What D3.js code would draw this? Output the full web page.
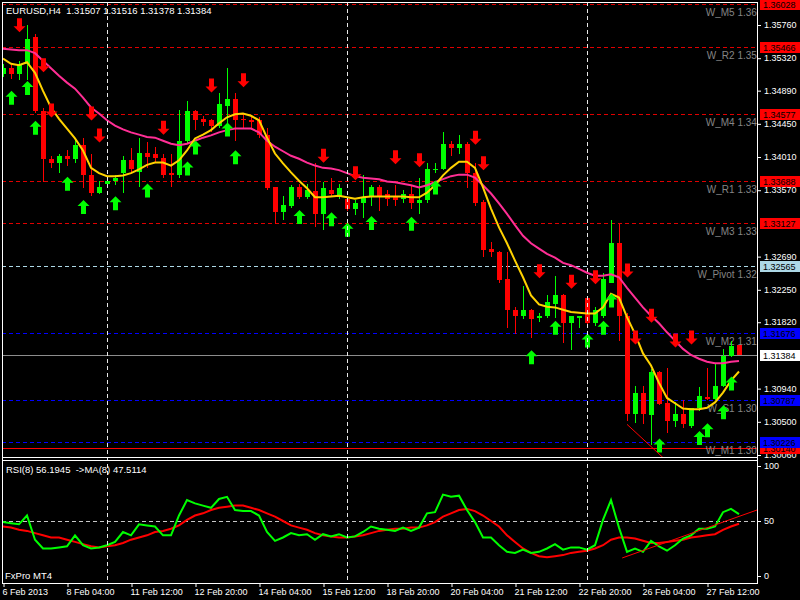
<!DOCTYPE html>
<html><head><meta charset="utf-8">
<script src="https://cdn.jsdelivr.net/npm/d3@7"></script>
<style>
body{margin:0;background:#000}
svg{display:block}
text{font-family:"Liberation Sans",Arial,sans-serif}
</style>
</head><body>
<svg id="c" width="800" height="600"></svg>
<script>
// ---------- DATA ----------
const symbolTitle = "EURUSD,H4  1.31507 1.31516 1.31378 1.31384";
const rsiTitle = "RSI(8) 56.1945  ->MA(8) 47.5114";
const brokerText = "FxPro MT4";

const opens = [1.3511,1.3519,1.3511,1.3524,1.3559,1.3462,1.3398,1.3393,1.3402,1.3398,
 1.3416,1.3376,1.3352,1.3365,1.3368,1.3379,1.3396,1.3380,1.3406,1.3404,
 1.3399,1.3379,1.3376,1.3422,1.3461,1.3451,1.3449,1.3442,1.3468,1.3477,
 1.3451,1.3449,1.3449,1.3429,1.3360,1.3327,1.3336,1.3360,1.3347,1.3355,
 1.3325,1.3357,1.3349,1.3345,1.3332,1.3339,1.3348,1.3360,1.3351,1.3348,
 1.3345,1.3351,1.3340,1.3343,1.3384,1.3385,1.3418,1.3412,1.3417,1.3379,
 1.3341,1.3279,1.3275,1.3238,1.3198,1.3190,1.3198,1.3187,1.3190,1.3206,
 1.3218,1.3180,1.3187,1.3214,1.3180,1.3190,1.3234,1.3287,1.3190,1.3060,
 1.3087,1.3058,1.3115,1.3074,1.3050,1.3060,1.3044,1.3068,1.3082,1.3079,
 1.3097,1.3136,1.31507];
const highs = [1.3523,1.3524,1.3528,1.3575,1.3564,1.3465,1.3402,1.3405,1.3409,1.3426,
 1.3426,1.3405,1.3369,1.3372,1.3377,1.3402,1.3412,1.3425,1.3420,1.3413,
 1.3405,1.3405,1.3463,1.3474,1.3463,1.3455,1.3451,1.3485,1.3518,1.3485,
 1.3459,1.3455,1.3453,1.3439,1.3360,1.3349,1.3363,1.3365,1.3365,1.3392,
 1.3367,1.3373,1.3365,1.3347,1.3343,1.3376,1.3363,1.3363,1.3356,1.3363,
 1.3356,1.3363,1.3372,1.3392,1.3393,1.3433,1.3421,1.3429,1.3420,1.3393,
 1.3343,1.3288,1.3276,1.3274,1.3202,1.3230,1.3199,1.3194,1.3217,1.3243,
 1.3219,1.3190,1.3190,1.3215,1.3202,1.3246,1.3317,1.3312,1.3193,1.3097,
 1.3097,1.3120,1.3117,1.3121,1.3075,1.3078,1.3068,1.3095,1.3121,1.3127,
 1.3146,1.3157,1.31516];
const lows = [1.3507,1.3504,1.3502,1.3502,1.3459,1.3367,1.3386,1.3379,1.3389,1.3392,
 1.3359,1.3349,1.3351,1.3363,1.3363,1.3353,1.3379,1.3360,1.3386,1.3393,
 1.3373,1.3360,1.3373,1.3418,1.3436,1.3442,1.3433,1.3439,1.3442,1.3422,
 1.3439,1.3438,1.3426,1.3356,1.3312,1.3317,1.3333,1.3345,1.3345,1.3308,
 1.3303,1.3347,1.3345,1.3329,1.3323,1.3319,1.3336,1.3329,1.3336,1.3336,
 1.3339,1.3332,1.3325,1.3339,1.3379,1.3383,1.3402,1.3405,1.3359,1.3335,
 1.3268,1.3268,1.3233,1.3174,1.3166,1.3186,1.3160,1.3181,1.3187,1.3187,
 1.3154,1.3144,1.3174,1.3178,1.3177,1.3187,1.3233,1.3157,1.3051,1.3048,
 1.3047,1.3018,1.3071,1.3034,1.3043,1.3041,1.3041,1.3064,1.3078,1.3078,
 1.3095,1.3135,1.31378];
const closes = [1.3519,1.3511,1.3524,1.3557,1.3462,1.3398,1.3393,1.3402,1.3398,1.3416,
 1.3376,1.3352,1.3361,1.3369,1.3373,1.3396,1.3385,1.3406,1.3401,1.3399,
 1.3377,1.3376,1.3422,1.3461,1.3450,1.3447,1.3442,1.3471,1.3477,1.3449,
 1.3449,1.3447,1.3429,1.3359,1.3328,1.3337,1.3360,1.3348,1.3356,1.3325,
 1.3359,1.3351,1.3359,1.3332,1.3339,1.3348,1.3360,1.3349,1.3345,1.3344,
 1.3351,1.3340,1.3344,1.3385,1.3385,1.3417,1.3412,1.3417,1.3379,1.3340,
 1.3277,1.3274,1.3237,1.3197,1.3190,1.3198,1.3186,1.3190,1.3208,1.3218,
 1.3180,1.3189,1.3190,1.3180,1.3197,1.3238,1.3287,1.3189,1.3060,1.3087,
 1.3060,1.3115,1.3073,1.3050,1.3060,1.3046,1.3068,1.3083,1.3079,1.3097,
 1.3136,1.3150,1.31384];
const fastMA = [1.3531,1.3524,1.3522,1.3526,1.3512,1.3488,1.3466,1.3451,1.3438,1.3425,
 1.3409,1.3386,1.3379,1.3375,1.3375,1.3376,1.3379,1.3384,1.3390,1.3393,
 1.3393,1.3389,1.3396,1.3409,1.3425,1.3430,1.3436,1.3445,1.3453,1.3457,
 1.3458,1.3455,1.3449,1.3426,1.3405,1.3392,1.3380,1.3369,1.3359,1.3347,
 1.3347,1.3348,1.3349,1.3347,1.3345,1.3347,1.3348,1.3348,1.3348,1.3348,
 1.3348,1.3347,1.3347,1.3353,1.3363,1.3376,1.3386,1.3394,1.3394,1.3386,
 1.3360,1.3332,1.3307,1.3286,1.3263,1.3241,1.3217,1.3205,1.3202,1.3201,
 1.3198,1.3195,1.3194,1.3193,1.3193,1.3201,1.3219,1.3214,1.3188,1.3166,
 1.3140,1.3124,1.3101,1.3081,1.3074,1.3067,1.3066,1.3066,1.3068,1.3075,
 1.3088,1.3104,1.3116];
const slowMA = [1.3544,1.3543,1.3542,1.3542,1.3538,1.3528,1.3518,1.3508,1.3499,1.3491,
 1.3479,1.3466,1.3458,1.3449,1.3442,1.3437,1.3433,1.3430,1.3427,1.3426,
 1.3422,1.3418,1.3416,1.3418,1.3422,1.3426,1.3429,1.3433,1.3436,1.3438,
 1.3438,1.3438,1.3433,1.3422,1.3414,1.3408,1.3402,1.3398,1.3393,1.3389,
 1.3386,1.3385,1.3383,1.3379,1.3375,1.3373,1.3372,1.3371,1.3368,1.3367,
 1.3365,1.3363,1.3360,1.3363,1.3367,1.3371,1.3375,1.3377,1.3377,1.3373,
 1.3363,1.3352,1.3339,1.3325,1.3310,1.3296,1.3286,1.3279,1.3272,1.3267,
 1.3260,1.3257,1.3252,1.3247,1.3243,1.3243,1.3245,1.3241,1.3227,1.3214,
 1.3201,1.3190,1.3180,1.3168,1.3157,1.3146,1.3138,1.3133,1.3129,1.3127,
 1.3127,1.3129,1.3130];
const rsiVals = [49,48,47,55,33,25,25,26,27,37,
 28,25,26,28,31,40,37,47,46,45,
 37,37,55,69,66,64,62,70,72,60,
 59,59,55,40,32,35,39,37,38,33,
 38,36,38,35,36,40,45,43,42,41,
 44,41,44,57,58,74,72,73,60,49,
 35,35,28,22,21,24,21,22,25,29,
 24,26,26,24,28,51,69,44,22,25,
 22,32,27,23,28,34,37,43,43,45,
 58,61,56.1945];
const rsiMA = [45,44,42,41,39,37,35,35,33,31,
 29,27,26,27,28,30,33,35,37,40,
 41,43,46,51,55,57,60,62,63,64,
 64,62,60,57,54,50,46,44,42,39,
 37,36,35,35,36,37,39,41,42,43,
 43,44,44,46,49,54,57,60,61,59,
 55,50,45,37,31,25,21,18,17,18,
 19,21,22,23,25,28,33,35,35,34,
 32,30,30,31,32,33,35,36,37,38,
 42,45,47.5114];

const downArrowBars = [2,5,6,11,12,20,26,30,40,44,49,52,59,60,67,71,74,78,79,81,84,86];
const downArrowPrices = [1.3575,1.3522,1.3462,1.3458,1.3429,1.3439,1.3495,1.3502,1.3402,1.3379,1.3400,1.3396,1.3426,1.3392,1.3249,1.3235,1.3241,1.3250,1.3161,1.3190,1.3157,1.3161];
const upArrowBars = [1,3,4,8,10,14,18,23,24,28,29,37,41,43,46,51,54,66,69,73,75,76,82,87,88,90,91];
const upArrowPrices = [1.3479,1.3492,1.3439,1.3365,1.3334,1.3339,1.3356,1.3385,1.3413,1.3437,1.3400,1.3321,1.3318,1.3304,1.3313,1.3312,1.3360,1.3135,1.3174,1.3157,1.3174,1.3210,1.3018,1.3028,1.3038,1.3062,1.3100];

const levelNames = ["W_M5","W_R2","W_M4","W_R1","W_M3","W_Pivot","W_M2","W_S1","W_M1"];
const levelPrices = [1.36028,1.35466,1.34577,1.33688,1.33127,1.32565,1.31676,1.30787,1.30226];
const levelKinds = ["res","res","res","res","res","pivot","sup","sup","sup"];
const redLinePrice = 1.30140;
const bidPrice = 1.31384;

const priceTicks = [1.35760,1.35320,1.34890,1.34450,1.34010,1.33570,1.32690,1.32250,1.31820,1.30940,1.30500,1.30060];
const timeTickBars = [0,8,16,24,32,40,48,56,64,72,80,88];
const timeTickLabels = ["6 Feb 2013","8 Feb 04:00","11 Feb 12:00","12 Feb 20:00","14 Feb 04:00","15 Feb 12:00","18 Feb 20:00","20 Feb 04:00","21 Feb 12:00","22 Feb 20:00","26 Feb 04:00","27 Feb 12:00"];
const weekSeparatorBars = [13,43,73];
const rsiTicks = [0,50,100];
const rsiLevel = 50;

const priceTrendBars = [78,83];
const priceTrendPrices = [1.3046,1.2997];
const rsiTrendBars = [77.4,94.25];
const rsiTrendVals = [16.4,60];

// ---------- LAYOUT ----------
const svg = d3.select("#c");
svg.append("rect").attr("width",800).attr("height",600).attr("fill","#000");

const L = 2, R = 757, PT = 2, PB = 457, RT = 460, RB = 583;
const x = d3.scaleLinear().domain([0,92]).range([3,739]);
const y = d3.scaleLinear().domain([1.36085,1.30027]).range([0,457]);
const ry = d3.scaleLinear().domain([0,100]).range([576,466]);

const defs = svg.append("defs");
defs.append("clipPath").attr("id","cp").append("rect").attr("x",L+1).attr("y",PT+1).attr("width",R-L-1).attr("height",PB-PT-1);
defs.append("clipPath").attr("id","cr").append("rect").attr("x",L+1).attr("y",RT+1).attr("width",R-L-1).attr("height",RB-RT-1);

const pg = svg.append("g").attr("clip-path","url(#cp)");
const rg = svg.append("g").attr("clip-path","url(#cr)");

const kindColor = {res:"#e00000", pivot:"#add8e6", sup:"#0000ff"};
const boxColor = {res:"#ff0000", pivot:"#add8e6", sup:"#0000ff"};
const px = v => Math.round(y(v)) + 0.5;

// level lines
levelPrices.forEach((p,i)=>{
  pg.append("line").attr("x1",L).attr("x2",R).attr("y1",px(p)).attr("y2",px(p))
    .attr("stroke",kindColor[levelKinds[i]]).attr("stroke-width",1).attr("stroke-dasharray","4,3");
});
pg.append("line").attr("x1",L).attr("x2",R).attr("y1",px(redLinePrice)).attr("y2",px(redLinePrice))
  .attr("stroke","#ff0000").attr("stroke-width",1);
pg.append("line").attr("x1",L).attr("x2",R).attr("y1",px(bidPrice)).attr("y2",px(bidPrice))
  .attr("stroke","#8c8c8c").attr("stroke-width",1);

// level texts
levelPrices.forEach((p,i)=>{
  pg.append("text").attr("x",768).attr("y",Math.round(y(p))+12).attr("text-anchor","end")
    .attr("font-size",10).attr("fill","#848484").text(levelNames[i]+" "+p.toFixed(4));
});

// separators
weekSeparatorBars.forEach(b=>{
  svg.append("line").attr("x1",x(b)+0.5).attr("x2",x(b)+0.5).attr("y1",PT).attr("y2",RB)
    .attr("stroke","#e8e8e8").attr("stroke-dasharray","4,3");
});

// candles
const idx = d3.range(opens.length);
const cg = pg.append("g").attr("shape-rendering","crispEdges");
idx.forEach(i=>{
  const up = closes[i] >= opens[i];
  const col = up ? "#00ff00" : "#ff0000";
  const cx = Math.round(x(i));
  const yh = Math.round(y(highs[i])), yl = Math.round(y(lows[i]));
  cg.append("rect").attr("x",cx).attr("width",1).attr("y",yh).attr("height",Math.max(1,yl-yh)).attr("fill",col);
  const yo = Math.round(y(opens[i])), yc = Math.round(y(closes[i]));
  const top = Math.min(yo,yc), h = Math.max(1,Math.abs(yo-yc));
  cg.append("rect").attr("x",cx-2).attr("width",5).attr("y",top).attr("height",h).attr("fill",col);
});

// moving averages
const lineP = d3.line().x((d,i)=>x(i)).y(d=>y(d));
pg.append("path").datum(slowMA).attr("d",lineP).attr("fill","none").attr("stroke","#ff2e95").attr("stroke-width",2);
pg.append("path").datum(fastMA).attr("d",lineP).attr("fill","none").attr("stroke","#ffd200").attr("stroke-width",2);

// arrows
function downArrow(cx,cy){
  const t = cy-7;
  return `M${cx-2.5},${t}L${cx+2.5},${t}L${cx+2.5},${t+8}L${cx+6},${t+8}L${cx},${t+14}L${cx-6},${t+8}L${cx-2.5},${t+8}Z`;
}
function upArrow(cx,cy){
  const b = cy+7;
  return `M${cx-2.5},${b}L${cx+2.5},${b}L${cx+2.5},${b-8}L${cx+6},${b-8}L${cx},${b-14}L${cx-6},${b-8}L${cx-2.5},${b-8}Z`;
}
downArrowBars.forEach((b,i)=>{
  pg.append("path").attr("d",downArrow(Math.round(x(b))+0.5,y(downArrowPrices[i]))).attr("fill","#ff0000");
});
upArrowBars.forEach((b,i)=>{
  pg.append("path").attr("d",upArrow(Math.round(x(b))+0.5,y(upArrowPrices[i]))).attr("fill","#00ff00");
});

// price trend line
pg.append("line").attr("x1",x(priceTrendBars[0])).attr("y1",y(priceTrendPrices[0]))
  .attr("x2",x(priceTrendBars[1])).attr("y2",y(priceTrendPrices[1])).attr("stroke","#ff0000").attr("stroke-width",1);

// RSI panel
rg.append("line").attr("x1",L).attr("x2",R).attr("y1",Math.round(ry(rsiLevel))+0.5).attr("y2",Math.round(ry(rsiLevel))+0.5)
  .attr("stroke","#c8c8c8").attr("stroke-dasharray","4,3");
const lineR = d3.line().x((d,i)=>x(i)).y(d=>ry(d));
rg.append("path").datum(rsiMA).attr("d",lineR).attr("fill","none").attr("stroke","#ff0000").attr("stroke-width",2);
rg.append("path").datum(rsiVals).attr("d",lineR).attr("fill","none").attr("stroke","#00ff00").attr("stroke-width",2);
rg.append("line").attr("x1",x(rsiTrendBars[0])).attr("y1",ry(rsiTrendVals[0]))
  .attr("x2",x(rsiTrendBars[1])).attr("y2",ry(rsiTrendVals[1])).attr("stroke","#ff0000").attr("stroke-width",1);

// frames
const fr = svg.append("g").attr("stroke","#fff").attr("stroke-width",1).attr("shape-rendering","crispEdges");
fr.append("line").attr("x1",L+0.5).attr("x2",L+0.5).attr("y1",PT).attr("y2",RB+1);
fr.append("line").attr("x1",R+0.5).attr("x2",R+0.5).attr("y1",PT).attr("y2",RB+1);
fr.append("line").attr("x1",L).attr("x2",R+1).attr("y1",PT+0.5).attr("y2",PT+0.5);
fr.append("line").attr("x1",L).attr("x2",R+1).attr("y1",PB+0.5).attr("y2",PB+0.5);
fr.append("line").attr("x1",L).attr("x2",R+1).attr("y1",RT+0.5).attr("y2",RT+0.5);
fr.append("line").attr("x1",L).attr("x2",R+1).attr("y1",RB+0.5).attr("y2",RB+0.5);

// price axis
const ay = svg.append("g").attr("transform",`translate(${R+1},0)`)
  .call(d3.axisRight(y).tickValues(priceTicks).tickSize(3).tickPadding(3).tickFormat(d3.format(".5f")));
ay.select(".domain").remove();
ay.selectAll("line").attr("stroke","#fff").attr("transform","translate(0,0.5)");
ay.selectAll("text").attr("fill","#fff").attr("font-size",9).attr("font-family","Liberation Sans, Arial, sans-serif");

// price boxes
function priceBox(p,bg){
  const yy = Math.round(y(p));
  svg.append("rect").attr("x",760).attr("y",yy-5).attr("width",40).attr("height",11).attr("fill",bg);
  svg.append("text").attr("x",763).attr("y",yy+4).attr("font-size",9).attr("fill","#000").text(p.toFixed(5));
}
priceBox(redLinePrice,"#ff0000");
levelPrices.forEach((p,i)=>priceBox(p,boxColor[levelKinds[i]]));
priceBox(bidPrice,"#ffffff");

// RSI axis
const ar = svg.append("g").attr("transform",`translate(${R+1},0)`)
  .call(d3.axisRight(ry).tickValues(rsiTicks).tickSize(3).tickPadding(3).tickFormat(d3.format("d")));
ar.select(".domain").remove();
ar.selectAll("line").attr("stroke","#fff");
ar.selectAll("text").attr("fill","#fff").attr("font-size",9).attr("font-family","Liberation Sans, Arial, sans-serif");

// time axis
const ax = svg.append("g").attr("transform",`translate(0,${RB})`)
  .call(d3.axisBottom(x).tickValues(timeTickBars).tickSize(4).tickPadding(2)
    .tickFormat((d,i)=>timeTickLabels[i]));
ax.select(".domain").remove();
ax.selectAll("line").attr("stroke","#fff").attr("transform","translate(0.5,0)");
ax.selectAll("text").attr("fill","#fff").attr("font-size",9).attr("text-anchor","start").attr("x",-1)
  .attr("font-family","Liberation Sans, Arial, sans-serif");

// titles
svg.append("text").attr("x",6).attr("y",14).attr("font-size",9.5).attr("fill","#fff").style("white-space","pre").text(symbolTitle);
svg.append("text").attr("x",6).attr("y",473).attr("font-size",9.5).attr("fill","#fff").style("white-space","pre").text(rsiTitle);
svg.append("text").attr("x",5).attr("y",579).attr("font-size",9.5).attr("fill","#fff").text(brokerText);
</script>
</body></html>
